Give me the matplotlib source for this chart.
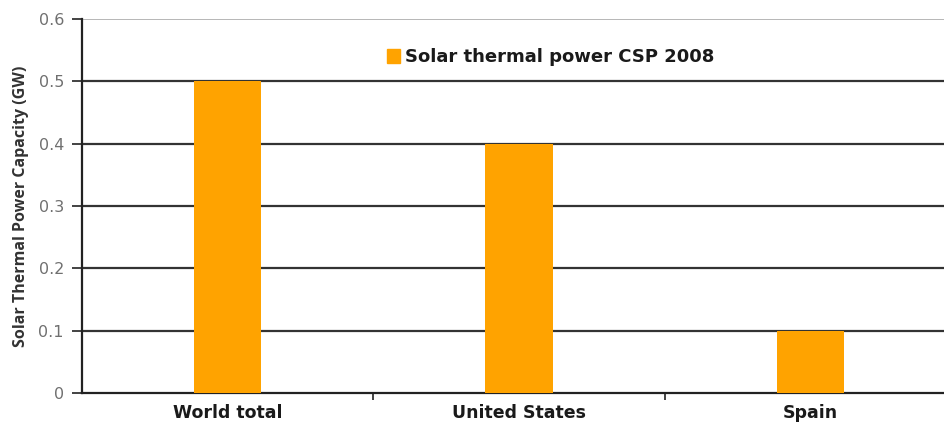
import matplotlib
matplotlib.use("Agg")
import matplotlib.pyplot as plt
from matplotlib.patches import Patch

categories = ["World total", "United States", "Spain"]
values = [0.5, 0.4, 0.1]
series_name = "Solar thermal power CSP 2008"
yticks = [0, 0.1, 0.2, 0.3, 0.4, 0.5, 0.6]
ytick_labels = ["0", "0.1", "0.2", "0.3", "0.4", "0.5", "0.6"]

plt.rcParams['font.family'] = ['DejaVu Sans']

fig = plt.figure(figsize=(9.45, 4.29), dpi=100)
ax = fig.add_axes([82/945, 1-393/429, 874/945, (393-19)/429])

x = list(range(len(categories)))
ax.bar(x, values, width=0.23, color='#FFA300', zorder=3)

ax.set_xlim(-0.5, 2.5)
ax.set_ylim(0, 0.6)
ax.set_yticks(yticks)
ax.set_yticklabels(ytick_labels, color='#707070', fontsize=11.5)
for y in yticks[1:-1]:
    ax.axhline(y, color='#333333', lw=1.6, zorder=1)
ax.axhline(0.6, color='#aaaaaa', lw=1.2, zorder=1)

ax.set_xticks([0.5, 1.5])
ax.set_xticklabels([])
ax.tick_params(axis='x', length=5, width=1.2, color='#222222', direction='out')
ax.tick_params(axis='y', length=7, width=1.2, color='#222222', pad=6)
for i, c in enumerate(categories):
    ax.text(i, -0.032, c, ha='center', va='center', fontsize=12.5,
            fontweight='bold', color='#1a1a1a', transform=ax.transData, clip_on=False)

for s in ['top', 'right']:
    ax.spines[s].set_visible(False)
ax.spines['left'].set_color('#222222')
ax.spines['left'].set_linewidth(1.6)
ax.spines['bottom'].set_color('#222222')
ax.spines['bottom'].set_linewidth(1.6)

ax.set_ylabel("Solar Thermal Power Capacity (GW)", fontsize=11.5, fontweight='bold',
              color='#333333', family=['Open Sans', 'DejaVu Sans'])
ax.yaxis.set_label_coords(-0.061, 0.5)

leg = ax.legend(handles=[Patch(color='#FFA300', label=series_name)],
                loc='upper left', bbox_to_anchor=(0.33, 0.965), frameon=False,
                prop={'weight': 'bold', 'size': 13}, handlelength=0.75,
                handleheight=0.75, handletextpad=0.25)
for t in leg.get_texts():
    t.set_color('#1a1a1a')

fig.savefig("out.png", dpi=100)
